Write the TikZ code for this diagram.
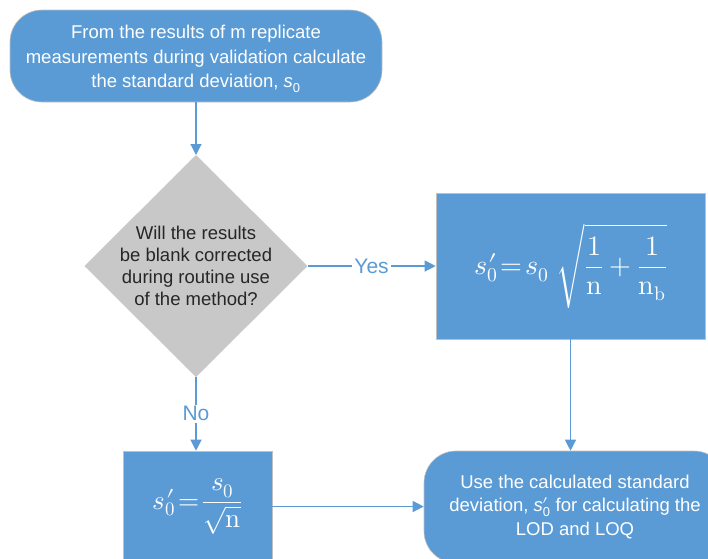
\documentclass[tikz,border=0pt]{standalone}
\usepackage{fontspec}
\usepackage{unicode-math}
\setmainfont{Liberation Sans}
\setmathfont{Latin Modern Math}
\usetikzlibrary{shapes.geometric,arrows.meta}
\definecolor{offblue}{HTML}{5B9BD5}
\definecolor{diagrey}{HTML}{C8C8C8}
\definecolor{edgegrey}{HTML}{C0C0C0}
\definecolor{darktext}{HTML}{262626}
\newcommand{\sprime}{s\rlap{$\mkern1mu\prime$}}
\tikzset{
  bluebox/.style={draw=edgegrey, line width=0.6pt, fill=offblue, text=white, align=center, inner sep=0pt},
  roundbox/.style={bluebox, rounded corners=32pt},
  decision/.style={diamond, aspect=1, draw=none, fill=diagrey, inner sep=0pt, outer sep=0pt},
  dtext/.style={text=darktext, align=center, inner sep=0pt, font=\fontsize{18.5}{22}\selectfont},
  flow/.style={draw=offblue, line width=1.2pt, -{Triangle[length=11pt,width=11pt]}},
  lbl/.style={fill=white, text=offblue, inner sep=2pt, font=\fontsize{21}{24}\selectfont},
}
\begin{document}
\begin{tikzpicture}[x=1pt,y=-1pt]
\useasboundingbox (0,0) rectangle (708,558);
\begin{scope}
\clip (0,0) rectangle (708,558);
\node[roundbox, minimum width=372pt, minimum height=92pt, font=\fontsize{18.5}{24.5}\selectfont] (top) at (196,56) {};
\node[text=white, align=center, inner sep=0pt, font=\fontsize{18.5}{24.5}\selectfont] (toptext) at (196,59)
  {From the results of m replicate\\measurements during validation calculate\\the standard deviation, \textit{s}\textsubscript{0}};
\node[decision, minimum width=223pt, minimum height=222pt] (dia) at (196,266) {};
\node[dtext] (diatext) at (dia.center)
  {Will the results\\be blank corrected\\during routine use\\of the method?};
\node[bluebox, minimum width=269pt, minimum height=146pt, font=\fontsize{28}{30}\selectfont] (rb) at (570.5,266)
  {$\displaystyle \sprime_0\!=\!s_0\;\sqrt{\frac{1}{\symup{n}}+\frac{1}{\symup{n}_{\symup{b}}}}$};
\node[bluebox, minimum width=149pt, minimum height=111pt, font=\fontsize{27}{30}\selectfont] (bl) at (197.5,506.5)
  {$\displaystyle \sprime_0\!=\!\frac{s_0}{\sqrt{\symup{n}}}$};
\node[roundbox, minimum width=302pt, minimum height=112pt, font=\fontsize{18.5}{23.5}\selectfont] (br) at (575,507)
  {Use the calculated standard\\deviation, \textit{s}\rlap{$\prime$}\textsubscript{0} for calculating the\\LOD and LOQ};
\end{scope}
\draw[flow] (top.south) -- (dia.north);
\draw[flow] (dia.east) -- node[lbl] {Yes} (rb.west);
\draw[flow] (dia.south) -- node[lbl] {No} (dia.south |- bl.north);
\draw[flow] (rb.south) -- (rb.south |- br.north);
\draw[flow] (bl.east) -- (bl.east -| br.west);
\end{tikzpicture}
\end{document}
